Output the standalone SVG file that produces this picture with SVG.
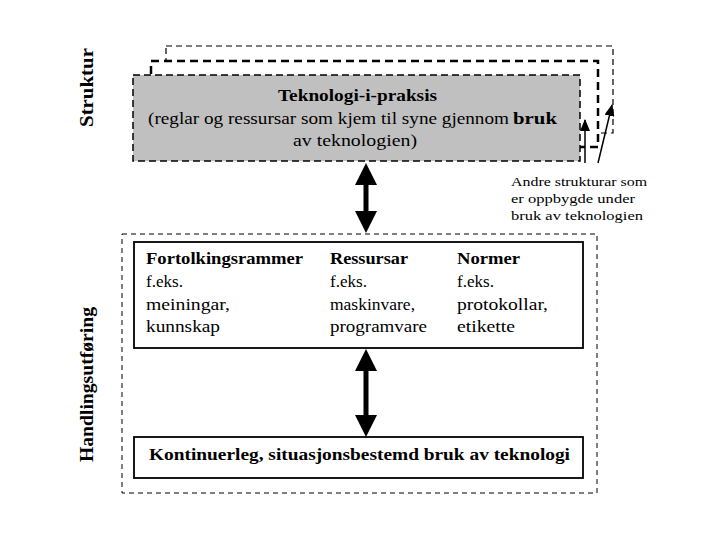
<svg xmlns="http://www.w3.org/2000/svg" width="720" height="540" viewBox="0 0 720 540">
<style>
text{font-family:"Liberation Serif","Times New Roman",serif;fill:#000}
.t{font-size:16px}
.h{font-size:17px}
.b{font-weight:bold}
.s{font-size:13px}
.side{font-size:18px;font-weight:bold}
.thin{fill:#fff;stroke:#000;stroke-width:1.2;stroke-dasharray:6 4}
.thick{fill:#fff;stroke:#000;stroke-width:2.5;stroke-dasharray:8 5}
.gray{fill:#c0c0c0;stroke:#000;stroke-width:1.5;stroke-dasharray:7 4}
.outer{fill:none;stroke:#000;stroke-width:1;stroke-dasharray:5 4}
.box{fill:#fff;stroke:#000;stroke-width:1.8}
.big{stroke:#000;stroke-width:5;marker-start:url(#bigHead);marker-end:url(#bigHead)}
.small{stroke:#000;stroke-width:1.5;fill:none;marker-end:url(#smallHead)}
</style>
<defs>
<marker id="bigHead" markerUnits="userSpaceOnUse" markerWidth="22" markerHeight="22" viewBox="0 0 22 22" refX="10" refY="11" orient="auto-start-reverse">
<path d="M0,0 L22,11 L0,22 z" fill="#000"/>
</marker>
<marker id="smallHead" markerUnits="userSpaceOnUse" markerWidth="12" markerHeight="10" viewBox="0 0 12 10" refX="11" refY="5" orient="auto">
<path d="M0,0 L12,5 L0,10 z" fill="#000"/>
</marker>
</defs>
<rect width="720" height="540" fill="#fff"/>

<g id="label-struktur">
<text class="side" transform="translate(93,87.5) rotate(-90)" text-anchor="middle" textLength="79" lengthAdjust="spacingAndGlyphs">Struktur</text>
</g>
<g id="label-handling">
<text class="side" transform="translate(93,384.5) rotate(-90)" text-anchor="middle" textLength="155" lengthAdjust="spacingAndGlyphs">Handlingsutføring</text>
</g>

<g id="struktur-back2">
<rect class="thin" x="166" y="46" width="447" height="87"/>
</g>
<g id="struktur-back1">
<rect class="thick" x="151" y="61" width="447" height="86"/>
</g>
<g id="teknologi-i-praksis">
<rect class="gray" x="133" y="75" width="447" height="86"/>
<text class="h b" x="278" y="101" textLength="159" lengthAdjust="spacingAndGlyphs">Teknologi-i-praksis</text>
<text class="h" x="148" y="124" textLength="361" lengthAdjust="spacingAndGlyphs">(reglar og ressursar som kjem til syne gjennom</text>
<text class="h b" x="513" y="124" textLength="44" lengthAdjust="spacingAndGlyphs">bruk</text>
<text class="h" x="293" y="146" textLength="124" lengthAdjust="spacingAndGlyphs">av teknologien)</text>
</g>

<g id="andre-strukturar">
<text class="s" x="511" y="186" textLength="136" lengthAdjust="spacingAndGlyphs">Andre strukturar som</text>
<text class="s" x="511" y="203" textLength="124" lengthAdjust="spacingAndGlyphs">er oppbygde under</text>
<text class="s" x="511" y="220" textLength="132" lengthAdjust="spacingAndGlyphs">bruk av teknologien</text>
</g>

<g id="handling-outer">
<rect class="outer" x="122" y="234" width="475" height="259"/>
</g>

<g id="strukturar-box">
<rect class="box" x="134" y="242" width="449" height="106"/>
<text class="t b" x="146" y="264" textLength="157" lengthAdjust="spacingAndGlyphs">Fortolkingsrammer</text>
<text class="t" x="146" y="287" textLength="37" lengthAdjust="spacingAndGlyphs">f.eks.</text>
<text class="t" x="146" y="310" textLength="84" lengthAdjust="spacingAndGlyphs">meiningar,</text>
<text class="t" x="146" y="332" textLength="74" lengthAdjust="spacingAndGlyphs">kunnskap</text>
<text class="t b" x="330" y="264" textLength="78" lengthAdjust="spacingAndGlyphs">Ressursar</text>
<text class="t" x="330" y="287" textLength="37" lengthAdjust="spacingAndGlyphs">f.eks.</text>
<text class="t" x="330" y="310" textLength="85" lengthAdjust="spacingAndGlyphs">maskinvare,</text>
<text class="t" x="330" y="332" textLength="97" lengthAdjust="spacingAndGlyphs">programvare</text>
<text class="t b" x="457" y="264" textLength="63" lengthAdjust="spacingAndGlyphs">Normer</text>
<text class="t" x="457" y="287" textLength="37" lengthAdjust="spacingAndGlyphs">f.eks.</text>
<text class="t" x="457" y="310" textLength="91" lengthAdjust="spacingAndGlyphs">protokollar,</text>
<text class="t" x="457" y="332" textLength="58" lengthAdjust="spacingAndGlyphs">etikette</text>
</g>

<g id="bruk-box">
<rect class="box" x="134" y="437" width="449" height="41"/>
<text class="h b" x="149" y="460" textLength="421" lengthAdjust="spacingAndGlyphs">Kontinuerleg, situasjonsbestemd bruk av teknologi</text>
</g>

<g id="connectors">
<line class="big" x1="366" y1="175" x2="366" y2="221"/>
<line class="big" x1="366" y1="361" x2="366" y2="425"/>
<line class="small" x1="585" y1="163" x2="585" y2="120"/>
<line class="small" x1="598" y1="163" x2="612" y2="105"/>
</g>
</svg>
